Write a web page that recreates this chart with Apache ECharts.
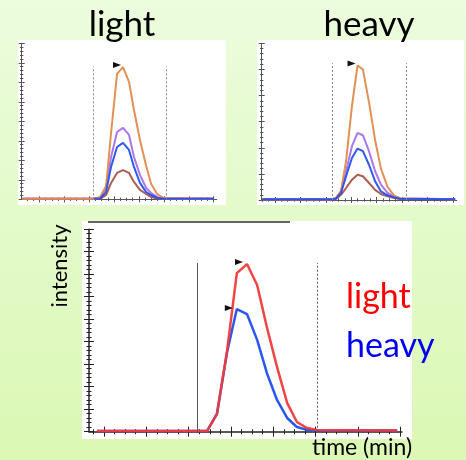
<!DOCTYPE html>
<html>
<head>
<meta charset="utf-8">
<script src="https://cdn.jsdelivr.net/npm/echarts@6/dist/echarts.min.js"></script>
<style>
  html, body { margin: 0; padding: 0; width: 466px; height: 460px; overflow: hidden;
    background: linear-gradient(180deg, #ecfcdd 0%, #e3fac9 50%, #dbf8b4 100%); }
  #chart { width: 466px; height: 460px; }
</style>
</head>
<body>
<div id="chart"></div>
<script>
// ---- "light" panel: four transition traces (time in min, intensity) ----
const lightTime   = [-0.68, 2.20, 2.44, 2.68, 2.88, 3.12, 3.36, 3.60, 3.80, 4.04, 4.29, 4.49, 4.73, 4.97, 6.97];
const lightOrange = [0.03, 0.03, 0.12, 0.68, 3.40, 6.43, 6.78, 6.02, 4.58, 3.04, 1.71, 0.79, 0.27, 0.07, 0.03];
const lightPurple = [0.03, 0.03, 0.07, 0.58, 2.17, 3.45, 3.66, 3.30, 2.17, 1.25, 0.58, 0.32, 0.12, 0.04, 0.03];
const lightBlue   = [null, 0.03, 0.04, 0.37, 1.66, 2.68, 2.89, 2.53, 1.66, 0.84, 0.37, 0.22, 0.07, 0.04, 0.03];
const lightBrown  = [0.03, 0.03, 0.02, 0.22, 0.84, 1.35, 1.50, 1.35, 0.89, 0.48, 0.27, 0.12, 0.04, 0.03, 0.03];

// ---- "heavy" panel: the same four transitions ----
const heavyTime   = [-0.47, 2.20, 2.40, 2.60, 2.80, 3.03, 3.25, 3.46, 3.70, 3.94, 4.17, 4.43, 4.69, 4.92, 7.09];
const heavyOrange = [0.03, 0.03, 0.08, 0.35, 1.50, 3.60, 5.15, 5.00, 3.75, 2.30, 1.20, 0.50, 0.17, 0.07, 0.03];
const heavyPurple = [0.03, 0.03, 0.06, 0.33, 1.10, 2.06, 2.57, 2.48, 1.87, 1.10, 0.59, 0.27, 0.14, 0.06, 0.03];
const heavyBlue   = [0.03, 0.03, 0.05, 0.27, 0.91, 1.61, 1.97, 1.87, 1.35, 0.72, 0.33, 0.18, 0.10, 0.05, 0.03];
const heavyBrown  = [0.03, 0.03, 0.04, 0.20, 0.46, 0.78, 0.97, 0.91, 0.65, 0.39, 0.23, 0.14, 0.08, 0.04, 0.03];

// ---- summed traces: light vs heavy ----
const sumTime  = [-0.165, 2.435, 2.67, 2.91, 3.14, 3.38, 3.62, 3.85, 4.09, 4.33, 4.56, 4.80, 5.04, 6.93];
const sumLight = [0.03, 0.03, 0.79, 3.60, 7.05, 7.45, 6.52, 4.65, 2.88, 1.28, 0.43, 0.16, 0.08, 0.05];
const sumHeavy = [0.03, 0.03, 0.79, 3.54, 5.45, 5.23, 4.08, 2.61, 1.41, 0.61, 0.21, 0.08, 0.05, 0.05];

// integration window boundaries [start, end, top]
const lightWindow = [2.17, 5.08, 6.8];
const heavyWindow = [2.27, 5.16, 5.24];
const sumWindow   = [2.20, 5.04, 7.5];

// axis tick positions
const xMajorTicks  = [0, 1, 2, 3, 4, 5, 6, 7];
const lightYTicks  = [0, 1, 2, 3, 4, 5, 6, 7, 8];
const heavyYTicks  = [0, 1, 2, 3, 4, 5, 6];
const sumYTicks    = [0, 1, 2, 3, 4, 5, 6, 7, 8, 9];

const panelTitles = ['light', 'heavy'];
const legendTexts = ['light', 'heavy'];
const xAxisName = 'time (min)';
const yAxisName = 'intensity';

const C = {
  orange: '#e08a4c', purple: '#a870ea', blue: '#2450f2', brown: '#a8554a',
  red: '#f03a3a', sumBlue: '#1f4ef0'
};

function steps(from, to, step) {
  const out = [];
  for (let v = from; v <= to + 1e-9; v += step) out.push(+v.toFixed(3));
  return out;
}
function pairs(xs, ys) { return xs.map((x, i) => [x, ys[i]]); }
function peakOf(xs, ys) {
  let k = 0;
  ys.forEach((v, i) => { if (v != null && v > ys[k]) k = i; });
  return [xs[k], ys[k]];
}

const grids = [], xAxes = [], yAxes = [];

// Each panel gets four stacked axes per dimension so that ticks cross the axis line
function addPanel(box, xr, yr, xMajor, xMinor, yMajor, yMinor, st) {
  const gi = grids.length;
  grids.push(Object.assign({ containLabel: false }, box));
  const xi = xAxes.length, yi = yAxes.length;
  const sets = [
    [xMajor, yMajor, st.major, false],
    [xMajor, yMajor, st.major, true],
    [xMinor, yMinor, st.minor, false],
    [xMinor, yMinor, st.minor, true]
  ];
  sets.forEach(([xv, yv, len, inside], k) => {
    const common = {
      gridIndex: gi, type: 'value', silent: true,
      axisLabel: { show: false }, splitLine: { show: false }
    };
    xAxes.push(Object.assign({}, common, {
      min: xr[0], max: xr[1], position: 'bottom',
      axisLine: { show: k === 0, onZero: false, lineStyle: { color: st.color, width: st.width } },
      axisTick: { show: true, inside, length: len, customValues: xv, lineStyle: { color: st.color, width: 1 } }
    }));
    yAxes.push(Object.assign({}, common, {
      min: yr[0], max: yr[1], position: 'left',
      axisLine: { show: k === 0, onZero: false, lineStyle: { color: st.color, width: st.width } },
      axisTick: { show: true, inside, length: len, customValues: yv, lineStyle: { color: st.color, width: 1 } }
    }));
  });
  return { xi, yi };
}

const topStyle = { color: '#555', width: 1, major: 3, minor: 1.7 };
const botStyle = { color: '#222', width: 1.5, major: 5, minor: 2.5 };

const pL = addPanel({ left: 21.7, top: 43.3, width: 195, height: 156 },
  [-0.707, 7.12], [0, 8], xMajorTicks, steps(-0.5, 7, 0.25), lightYTicks, steps(0, 8, 0.2), topStyle);
const pH = addPanel({ left: 261.7, top: 43.3, width: 195, height: 156.7 },
  [-0.52, 7.15], [0, 6], xMajorTicks, steps(-0.5, 7, 0.25), heavyYTicks, steps(0, 6, 0.2), topStyle);
const pS = addPanel({ left: 89, top: 229.2, width: 313, height: 202.5 },
  [-0.355, 7.045], [0, 9], xMajorTicks, steps(-0.25, 7, 0.25), sumYTicks, steps(0, 9, 0.2), botStyle);

function trace(panel, xs, ys, color, width, extra) {
  return Object.assign({
    type: 'line', xAxisIndex: panel.xi, yAxisIndex: panel.yi,
    data: pairs(xs, ys), showSymbol: false, symbol: 'none', silent: true,
    connectNulls: false, animation: false,
    lineStyle: { color, width, opacity: 0.95 }, itemStyle: { color }
  }, extra || {});
}

function windowLines(win, types, color) {
  return {
    silent: true, symbol: 'none', animation: false,
    label: { show: false },
    data: [
      [{ coord: [win[0], 0], lineStyle: { type: types[0], color, width: 1 } }, { coord: [win[0], win[2]] }],
      [{ coord: [win[1], 0], lineStyle: { type: types[1], color, width: 1 } }, { coord: [win[1], win[2]] }]
    ]
  };
}

function apex(xs, ys, offset) {
  return {
    silent: true, animation: false,
    data: [{ coord: peakOf(xs, ys), symbol: 'triangle', symbolRotate: -90,
      symbolSize: [6, 8], symbolOffset: offset, itemStyle: { color: '#111' }, label: { show: false } }]
  };
}

const series = [
  trace(pL, lightTime, lightBrown, C.brown, 2, { markLine: windowLines(lightWindow, [[2, 2], [2, 2]], '#888') }),
  trace(pL, lightTime, lightPurple, C.purple, 2),
  trace(pL, lightTime, lightOrange, C.orange, 2, { markPoint: apex(lightTime, lightOrange, [-6, -2]) }),
  trace(pL, lightTime, lightBlue, C.blue, 2),

  trace(pH, heavyTime, heavyBrown, C.brown, 2, { markLine: windowLines(heavyWindow, [[2, 2], [2, 2]], '#888') }),
  trace(pH, heavyTime, heavyPurple, C.purple, 2),
  trace(pH, heavyTime, heavyOrange, C.orange, 2, { markPoint: apex(heavyTime, heavyOrange, [-6, -2]) }),
  trace(pH, heavyTime, heavyBlue, C.blue, 2),

  trace(pS, sumTime, sumHeavy, C.sumBlue, 2.5, {
    markLine: windowLines(sumWindow, ['solid', [2, 2]], '#555'),
    markPoint: apex(sumTime, sumHeavy, [-8, -1])
  }),
  trace(pS, sumTime, sumLight, C.red, 2.5, { markPoint: apex(sumTime, sumLight, [-8, -2]) })
];

const font = 'Lato, "Open Sans", "DejaVu Sans", sans-serif';

function label(text, x, y, size, fill, align, extra) {
  return Object.assign({
    type: 'text', silent: true, x, y,
    style: { text, font: '400 ' + size + 'px ' + font, fill, align, verticalAlign: 'top' }
  }, extra || {});
}

const graphic = [
  // white panels behind each plot
  { type: 'rect', z: -10, silent: true, shape: { x: 18, y: 40, width: 208, height: 165 }, style: { fill: '#fff' } },
  { type: 'rect', z: -10, silent: true, shape: { x: 257, y: 40, width: 207, height: 165 }, style: { fill: '#fff' } },
  { type: 'rect', z: -10, silent: true, shape: { x: 82, y: 221, width: 330, height: 218 }, style: { fill: '#fff' } },
  // clipped axis line along the top of the lower plot
  { type: 'line', silent: true, shape: { x1: 88, y1: 222, x2: 290, y2: 222 }, style: { stroke: '#333', lineWidth: 1.5 } },
  // panel titles
  label(panelTitles[0], 122, 7, 35, '#000', 'center'),
  label(panelTitles[1], 369, 7, 35, '#000', 'center'),
  // legend text
  label(legendTexts[0], 346, 280, 34, '#f00', 'left'),
  label(legendTexts[1], 346, 329, 34, '#0000f0', 'left'),
  // axis names
  label(xAxisName, 362, 436, 23, '#000', 'center'),
  { type: 'text', silent: true, x: 60, y: 266, rotation: Math.PI / 2,
    style: { text: yAxisName, font: '400 22px ' + font, fill: '#000', align: 'center', verticalAlign: 'middle' } }
];

const chart = echarts.init(document.getElementById('chart'), null, { renderer: 'canvas' });
chart.setOption({
  backgroundColor: 'transparent',
  animation: false,
  grid: grids,
  xAxis: xAxes,
  yAxis: yAxes,
  series,
  graphic
});
</script>
</body>
</html>
